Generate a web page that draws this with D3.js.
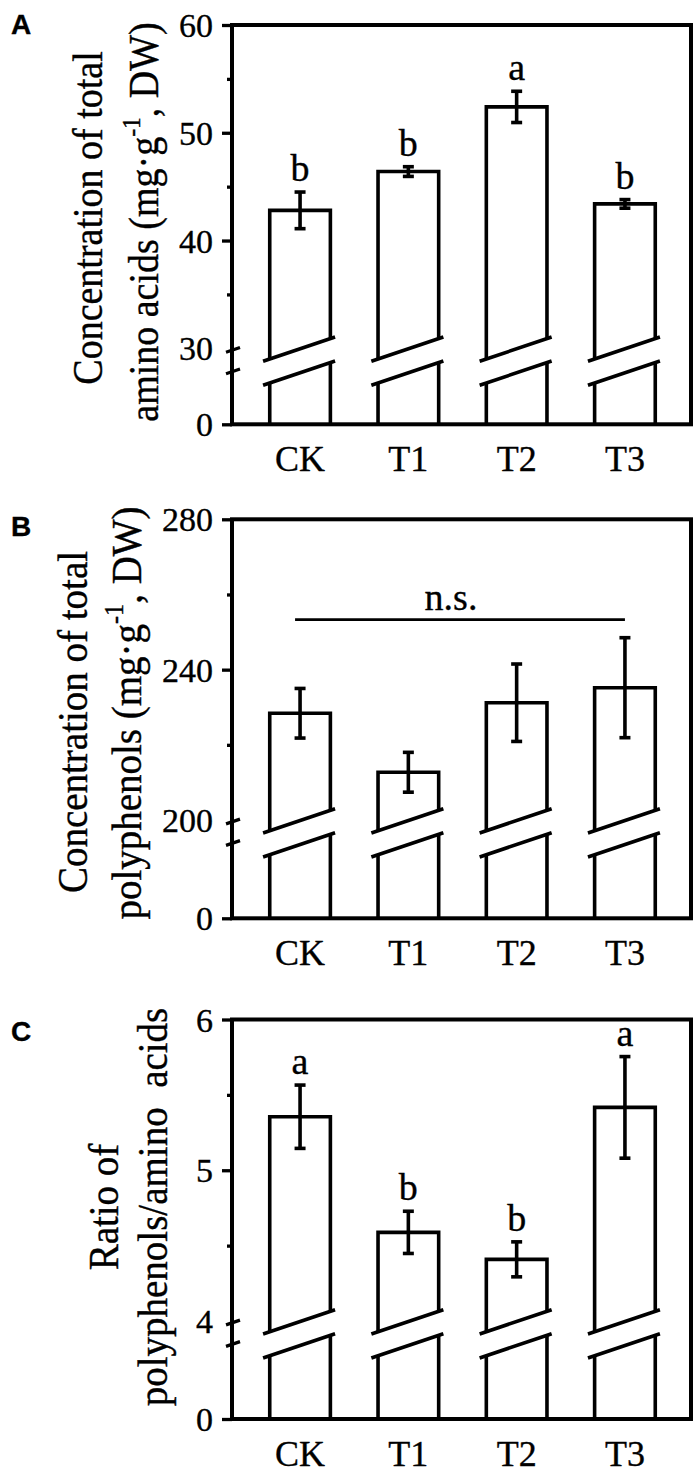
<!DOCTYPE html>
<html><head><meta charset="utf-8">
<script src="https://cdn.jsdelivr.net/npm/d3@7"></script>
<style>body{margin:0;background:#fff} text{stroke:#000;stroke-width:0.35px}</style>
</head><body>
<svg id="chart" width="700" height="1474"></svg>
<script>
// ---------- data ----------
const categories = ["CK", "T1", "T2", "T3"];

const aminoMeans   = [42.8, 46.4, 52.4, 43.4];
const aminoErrs    = [1.7, 0.45, 1.45, 0.4];
const aminoLetters = ["b", "b", "a", "b"];
const aminoDomain  = [30, 60];
const aminoTicks   = [30, 40, 50, 60];
const aminoMinor   = [35, 45, 55];

const polyMeans    = [228.4, 212.7, 231.2, 235.2];
const polyErrs     = [6.6, 5.3, 10.3, 13.3];
const polyNote     = "n.s.";
const polyNoteLevel = 253.3;
const polyDomain   = [200, 280];
const polyTicks    = [200, 240, 280];
const polyMinor    = [220, 260];

const ratioMeans   = [5.355, 4.588, 4.409, 5.417];
const ratioErrs    = [0.21, 0.14, 0.116, 0.337];
const ratioLetters = ["a", "b", "b", "a"];
const ratioDomain  = [4, 6];
const ratioTicks   = [4, 5, 6];
const ratioMinor   = [4.5, 5.5];

const panelLabels = ["A", "B", "C"];
// title lines: [normal, superscript, normal]
const aminoTitle = [["Concentration of total"], ["amino acids (mg·g", "-1", ", DW)"]];
const polyTitle  = [["Concentration of total"], ["polyphenols (mg·g", "-1", ", DW)"]];
const ratioTitle = [["Ratio of"], ["polyphenols/amino\u00a0\u00a0acids"]];

// ---------- layout ----------
const SERIF = "'Liberation Serif','Times New Roman',Times,serif";
const L = 232, R = 691;
const panels = [
  {label: panelLabels[0], labelY: 34, top: 25, bottom: 424.3, breakY: 348.3,
   domain: aminoDomain, ticks: aminoTicks, minor: aminoMinor,
   means: aminoMeans, errs: aminoErrs, letters: aminoLetters,
   title: aminoTitle, titleX: [102, 158], titleY: [218, 222], titleSize: 38},
  {label: panelLabels[1], labelY: 536, top: 519.3, bottom: 918.3, breakY: 820,
   domain: polyDomain, ticks: polyTicks, minor: polyMinor,
   means: polyMeans, errs: polyErrs, letters: null,
   title: polyTitle, titleX: [87, 141], titleY: [722, 713], titleSize: 39},
  {label: panelLabels[2], labelY: 1041, top: 1019.5, bottom: 1419, breakY: 1321,
   domain: ratioDomain, ticks: ratioTicks, minor: ratioMinor,
   means: ratioMeans, errs: ratioErrs, letters: ratioLetters,
   title: ratioTitle, titleX: [118, 167], titleY: [1207, 1207], titleSize: 39}
];

const svg = d3.select("#chart");
svg.append("rect").attr("width", 700).attr("height", 1474).attr("fill", "#fff");

const x = d3.scaleBand().domain(categories).range([234, R]).paddingInner(0.44).paddingOuter(0.33);
const bw = x.bandwidth();
const k = 0.3375;   // slope of the break marks
const GAP = 24;

panels.forEach((p, pi) => {
  const g = svg.append("g");
  const yU = d3.scaleLinear().domain(p.domain).range([p.breakY, p.top]);
  const yL = d3.scaleLinear().domain([0, p.domain[0]]).range([p.bottom, p.breakY + 22]);

  const upperLine = (cx, xp) => p.breakY + 0.5 - k * (xp - cx);
  const lowerLine = (cx, xp) => upperLine(cx, xp) + GAP;

  const bars = categories.map((c, i) => ({c, m: p.means[i], e: p.errs[i], l: p.letters ? p.letters[i] : null}));

  // bars
  bars.forEach(d => {
    const left = x(d.c), right = left + bw, cx = left + bw / 2;
    const yv = yU(d.m);
    g.append("path")
      .attr("d", `M${left},${upperLine(cx, left)}V${yv}H${right}V${upperLine(cx, right)}`)
      .attr("fill", "none").attr("stroke", "#000").attr("stroke-width", 3.6);
    g.append("path")
      .attr("d", `M${left},${yL(0)}V${lowerLine(cx, left)}M${right},${yL(0)}V${lowerLine(cx, right)}`)
      .attr("fill", "none").attr("stroke", "#000").attr("stroke-width", 3.6);
    [upperLine, lowerLine].forEach(fn => {
      g.append("line")
        .attr("x1", cx - 37).attr("y1", fn(cx, cx - 37))
        .attr("x2", cx + 35).attr("y2", fn(cx, cx + 35))
        .attr("stroke", "#000").attr("stroke-width", 3.6);
    });
    // error bar
    const y1 = yU(d.m + d.e), y2 = yU(d.m - d.e);
    g.append("line").attr("x1", cx).attr("x2", cx).attr("y1", y1).attr("y2", y2)
      .attr("stroke", "#000").attr("stroke-width", 3.6);
    [y1, y2].forEach(yy => g.append("line")
      .attr("x1", cx - 5.5).attr("x2", cx + 5.5).attr("y1", yy).attr("y2", yy)
      .attr("stroke", "#000").attr("stroke-width", 3.6));
    if (d.l) {
      g.append("text").attr("x", cx).attr("y", y1 - 11)
        .attr("text-anchor", "middle").attr("font-family", SERIF).attr("font-size", 38)
        .text(d.l);
    }
    // category label
    g.append("text").attr("x", cx).attr("y", p.bottom + 47)
      .attr("text-anchor", "middle").attr("font-family", SERIF).attr("font-size", 36)
      .text(d.c);
  });

  // n.s. annotation
  if (!p.letters) {
    const ly = yU(polyNoteLevel);
    const x1 = x(categories[0]) + bw / 2 - 5, x2 = x(categories[3]) + bw / 2;
    g.append("line").attr("x1", x1).attr("x2", x2).attr("y1", ly).attr("y2", ly)
      .attr("stroke", "#000").attr("stroke-width", 2.8);
    g.append("text").attr("x", (x1 + x2) / 2 - 9).attr("y", ly - 10)
      .attr("text-anchor", "middle").attr("font-family", SERIF).attr("font-size", 38)
      .text(polyNote);
  }

  // frame
  g.append("rect").attr("x", L).attr("y", p.top).attr("width", R - L).attr("height", p.bottom - p.top)
    .attr("fill", "none").attr("stroke", "#000").attr("stroke-width", 4);

  // y axis (upper segment)
  const axU = g.append("g").attr("transform", `translate(${L},0)`)
    .call(d3.axisLeft(yU).tickValues(p.ticks).tickSize(10).tickPadding(9).tickFormat(d3.format("~g")));
  axU.select(".domain").remove();
  axU.selectAll(".tick line").attr("stroke-width", 3.3).filter(d => d === p.domain[0]).remove();
  axU.selectAll(".tick text").attr("font-family", SERIF).attr("font-size", 34).attr("fill", "#000").attr("dy", "0.34em");

  const axM = g.append("g").attr("transform", `translate(${L},0)`)
    .call(d3.axisLeft(yU).tickValues(p.minor).tickSize(5).tickFormat(""));
  axM.select(".domain").remove();
  axM.selectAll(".tick line").attr("stroke-width", 3.3);

  // y axis (lower segment, only 0)
  const axL = g.append("g").attr("transform", `translate(${L},0)`)
    .call(d3.axisLeft(yL).tickValues([0]).tickSize(10).tickPadding(9).tickFormat(d3.format("d")));
  axL.select(".domain").remove();
  axL.selectAll(".tick line").attr("stroke-width", 3.3);
  axL.selectAll(".tick text").attr("font-family", SERIF).attr("font-size", 34).attr("fill", "#000").attr("dy", "0.34em");

  // axis break marks
  [p.breakY + 1.5, p.breakY + 23].forEach(yb => {
    g.append("line")
      .attr("x1", L - 6).attr("y1", yb + k * 7)
      .attr("x2", L + 8).attr("y2", yb - k * 7)
      .attr("stroke", "#000").attr("stroke-width", 3.2);
  });

  // title
  p.title.forEach((line, li) => {
    const t = g.append("text")
      .attr("transform", `translate(${p.titleX[li]},${p.titleY[li]}) rotate(-90) scale(1,1.1)`)
      .attr("text-anchor", "middle").attr("font-family", SERIF).attr("font-size", p.titleSize);
    line.forEach((seg, si) => {
      const ts = t.append("tspan").text(seg);
      if (si === 1) ts.attr("font-size", p.titleSize * 0.62).attr("dy", -p.titleSize * 0.42);
      if (si === 2) ts.attr("dy", p.titleSize * 0.42);
    });
  });

  // panel label
  g.append("text").attr("x", 11).attr("y", p.labelY)
    .attr("font-family", "'Liberation Sans',Arial,sans-serif").attr("font-weight", "bold")
    .attr("font-size", 28).attr("stroke-width", 0).text(p.label);
});
</script>
</body></html>
